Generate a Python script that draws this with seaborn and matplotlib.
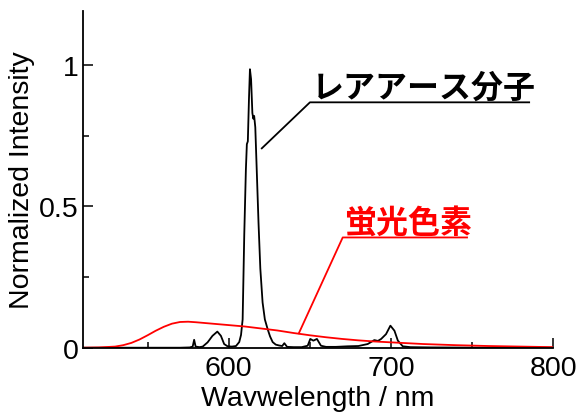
import matplotlib
matplotlib.use("Agg")
import matplotlib.pyplot as plt
import seaborn as sns
import pandas as pd
from matplotlib.ticker import FixedLocator

# ---- data ----
rare_wl = [510, 540, 570, 576, 577.8, 578.7, 579.6, 582, 584, 587, 590, 593, 595.2, 597.2,
           599.3, 602, 604.5, 606.5, 607.6, 608.6, 609.6, 610.6, 611.2, 611.8, 612.5, 613.1,
           613.8, 614.6, 615.2, 615.7, 616.4, 617.4, 618.4, 619.5, 620.9, 622.3, 624.0,
           625.5, 627.1, 629, 631, 633, 634.3, 636, 640, 645, 648.7, 650.3, 652.2, 654.4,
           656.9, 660, 666, 673.4, 680, 685.7, 689.8, 692, 694, 697, 699.7, 702.2, 704.3,
           707.3, 712, 725, 760, 800]
rare_int = [0.0, 0.0, 0.0, 0.001, 0.004, 0.028, 0.004, 0.002, 0.004, 0.019, 0.042, 0.057,
            0.042, 0.013, 0.005, 0.004, 0.006, 0.02, 0.045, 0.10, 0.40, 0.63, 0.72, 0.73,
            0.88, 0.985, 0.95, 0.83, 0.81, 0.82, 0.78, 0.61, 0.44, 0.28, 0.16, 0.10, 0.066,
            0.04, 0.02, 0.011, 0.008, 0.006, 0.016, 0.003, 0.002, 0.002, 0.007, 0.031, 0.025,
            0.031, 0.007, 0.003, 0.003, 0.005, 0.006, 0.013, 0.027, 0.024, 0.031, 0.048, 0.078,
            0.06, 0.025, 0.005, 0.002, 0.001, 0.0, 0.0]

dye_wl = [510, 520, 530, 535, 540, 545, 550, 555, 560, 565, 570, 575, 580, 590, 600, 610,
          620, 630, 640, 650, 660, 670, 680, 690, 700, 710, 720, 740, 760, 780, 800]
dye_int = [0.0, 0.001, 0.004, 0.009, 0.017, 0.029, 0.044, 0.060, 0.074, 0.085, 0.091, 0.092,
           0.090, 0.085, 0.080, 0.075, 0.068, 0.061, 0.052, 0.044, 0.037, 0.031, 0.026, 0.022,
           0.019, 0.016, 0.013, 0.009, 0.006, 0.004, 0.002]

x_major = [600, 700, 800]
x_minor = [550, 650, 750]
y_major = [0, 0.5, 1]
y_major_labels = ["0", "0.5", "1"]
y_minor = [0.25, 0.75]

label_rare = "レアアース分子"
label_dye = "蛍光色素"
xlabel = "Wavwelength / nm"
ylabel = "Normalized Intensity"

# ---- styling ----
sns.set_style("ticks")
plt.rcParams["font.family"] = ["Liberation Sans", "DejaVu Sans"]
plt.rcParams["text.color"] = "black"
plt.rcParams["axes.labelcolor"] = "black"
plt.rcParams["xtick.color"] = "black"
plt.rcParams["ytick.color"] = "black"

fig = plt.figure(figsize=(5.78, 4.14), dpi=100)
ax = fig.add_axes([0.1431, 0.1577, 0.8138, 0.8126])

df_rare = pd.DataFrame({"wl": rare_wl, "I": rare_int})
df_dye = pd.DataFrame({"wl": dye_wl, "I": dye_int})

sns.lineplot(data=df_rare, x="wl", y="I", color="black", linewidth=1.3, ax=ax)
sns.lineplot(data=df_dye, x="wl", y="I", color="#ff0000", linewidth=1.3, ax=ax)

ax.set_xlim(510, 800)
ax.set_ylim(0, 1.19)

ax.xaxis.set_major_locator(FixedLocator(x_major))
ax.xaxis.set_minor_locator(FixedLocator(x_minor))
ax.yaxis.set_major_locator(FixedLocator(y_major))
ax.set_yticklabels(y_major_labels)
ax.yaxis.set_minor_locator(FixedLocator(y_minor))

ax.tick_params(axis="both", which="major", direction="in", length=7.5, width=1.1,
               labelsize=20.5, pad=3, color="black", labelcolor="black")
ax.tick_params(axis="both", which="minor", direction="in", length=4.2, width=1.1,
               color="black")
ax.tick_params(axis="x", which="major", pad=5)

for s in ["top", "right"]:
    ax.spines[s].set_visible(False)
for s in ["left", "bottom"]:
    ax.spines[s].set_linewidth(1.3)
    ax.spines[s].set_color("black")

ax.set_xlabel(xlabel, fontsize=20.5, labelpad=3, color="black")
ax.set_ylabel(ylabel, fontsize=20.5, labelpad=3, color="black")

# ---- annotations ----
cjk = ["Noto Sans CJK JP", "DejaVu Sans"]
# rare-earth label
ax.plot([620, 650.1, 785.8], [0.703, 0.868, 0.868], color="black", lw=1.3,
        solid_capstyle="butt")
ax.text(651.5, 0.863, label_rare, color="black", fontsize=23, fontweight="bold",
        family=cjk, ha="left", va="bottom")
# dye label
ax.plot([643, 670.3, 747.5], [0.048, 0.39, 0.39], color="#ff0000", lw=1.3,
        solid_capstyle="butt")
ax.text(671.0, 0.385, label_dye, color="#ff0000", fontsize=23, fontweight="bold",
        family=cjk, ha="left", va="bottom")

fig.savefig("out.png", dpi=100)
